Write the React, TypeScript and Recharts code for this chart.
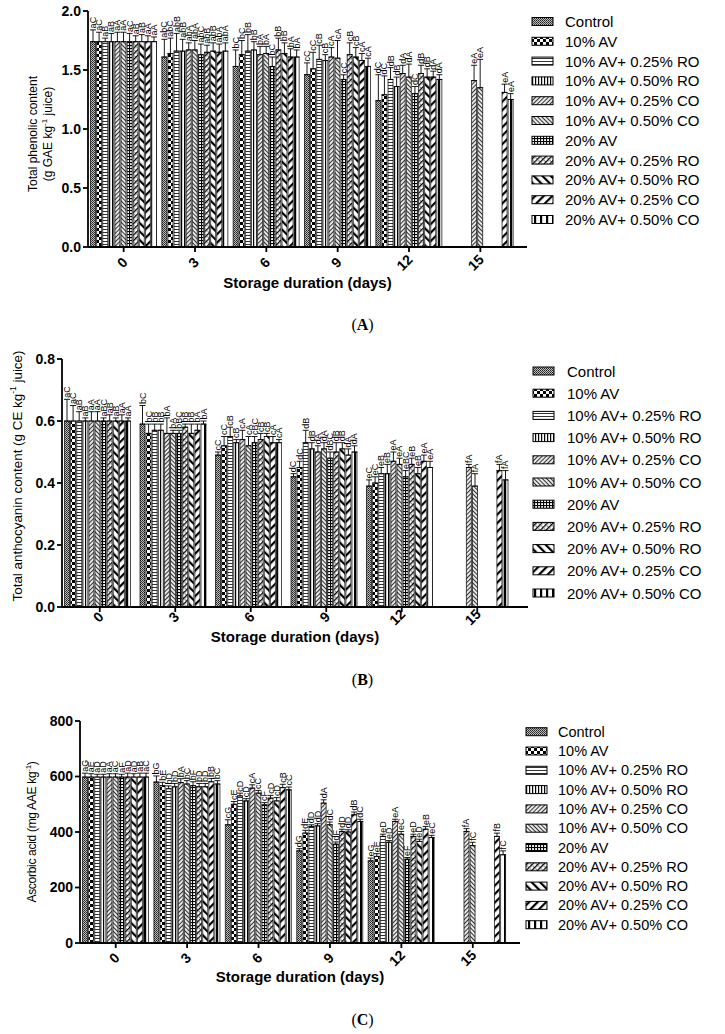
import React from 'react';
import { BarChart, Bar, XAxis, YAxis, ErrorBar, LabelList } from 'recharts';

const FONT = '"Liberation Sans", Arial, Helvetica, sans-serif';

const days = ['0', '3', '6', '9', '12', '15'];
const treatments = [
  'Control',
  '10% AV',
  '10% AV+ 0.25% RO',
  '10% AV+ 0.50% RO',
  '10% AV+ 0.25% CO',
  '10% AV+ 0.50% CO',
  '20% AV',
  '20% AV+ 0.25% RO',
  '20% AV+ 0.50% RO',
  '20% AV+ 0.25% CO',
  '20% AV+ 0.50% CO',
];

// ---- Panel A: total phenolic content (rows = treatments, cols = days)
const phenolicMean = [
  [1.74, 1.61, 1.53, 1.46, 1.24, null],
  [1.74, 1.64, 1.63, 1.51, 1.29, null],
  [1.74, 1.66, 1.66, 1.59, 1.42, null],
  [1.74, 1.66, 1.67, 1.58, 1.36, null],
  [1.74, 1.67, 1.63, 1.61, 1.47, 1.41],
  [1.74, 1.67, 1.64, 1.60, 1.44, 1.35],
  [1.74, 1.63, 1.53, 1.42, 1.30, null],
  [1.74, 1.65, 1.67, 1.63, 1.47, null],
  [1.74, 1.66, 1.64, 1.61, 1.44, null],
  [1.74, 1.65, 1.61, 1.58, 1.44, 1.31],
  [1.74, 1.66, 1.61, 1.53, 1.42, 1.25],
];
const phenolicErr = [
  [0.10, 0.15, 0.14, 0.10, 0.22, null],
  [0.08, 0.13, 0.12, 0.14, 0.16, null],
  [0.03, 0.15, 0.14, 0.12, 0.10, null],
  [0.07, 0.10, 0.07, 0.05, 0.08, null],
  [0.08, 0.06, 0.07, 0.08, 0.07, 0.13],
  [0.08, 0.08, 0.06, 0.15, 0.11, 0.24],
  [0.07, 0.09, 0.08, 0.04, 0.06, null],
  [0.05, 0.06, 0.10, 0.10, 0.07, null],
  [0.06, 0.07, 0.09, 0.08, 0.07, null],
  [0.05, 0.07, 0.07, 0.06, 0.05, 0.07],
  [0.04, 0.07, 0.06, 0.07, 0.04, 0.05],
];
const phenolicLetters = [
  ['aC', 'abC', 'bC', 'cC', 'dC', null],
  ['aC', 'abC', 'bC', 'cC', 'dC', null],
  ['aB', 'abB', 'bB', 'cB', 'dB', null],
  ['aB', 'abB', 'bB', 'cB', 'dB', null],
  ['aA', 'abA', 'bA', 'cA', 'dA', 'eA'],
  ['aA', 'abA', 'bA', 'cA', 'dA', 'eA'],
  ['aC', 'abC', 'bC', 'cC', 'dC', null],
  ['aB', 'abB', 'bB', 'cB', 'dB', null],
  ['aB', 'abB', 'bB', 'cB', 'dB', null],
  ['aA', 'abA', 'bA', 'cA', 'dA', 'eA'],
  ['aA', 'abA', 'bA', 'cA', 'dA', 'eA'],
];

// ---- Panel B: total anthocyanin content
const anthoMean = [
  [0.60, 0.59, 0.49, 0.42, 0.39, null],
  [0.60, 0.56, 0.52, 0.45, 0.40, null],
  [0.60, 0.57, 0.55, 0.53, 0.43, null],
  [0.60, 0.57, 0.53, 0.51, 0.43, null],
  [0.60, 0.56, 0.54, 0.50, 0.47, 0.45],
  [0.60, 0.56, 0.52, 0.51, 0.46, 0.39],
  [0.60, 0.56, 0.53, 0.48, 0.42, null],
  [0.60, 0.58, 0.54, 0.50, 0.46, null],
  [0.60, 0.56, 0.55, 0.51, 0.43, null],
  [0.60, 0.57, 0.53, 0.49, 0.47, 0.44],
  [0.60, 0.59, 0.53, 0.50, 0.45, 0.41],
];
const anthoErr = [
  [0.07, 0.06, 0.01, 0.01, 0.02, null],
  [0.05, 0.03, 0.03, 0.02, 0.02, null],
  [0.03, 0.02, 0.03, 0.04, 0.02, null],
  [0.01, 0.02, 0.01, 0.02, 0.03, null],
  [0.03, 0.05, 0.03, 0.02, 0.03, 0.01],
  [0.03, 0.01, 0.03, 0.02, 0.02, 0.04],
  [0.01, 0.01, 0.02, 0.02, 0.02, null],
  [0.02, 0.01, 0.02, 0.03, 0.02, null],
  [0.01, 0.03, 0.01, 0.02, 0.02, null],
  [0.02, 0.02, 0.02, 0.02, 0.02, 0.02],
  [0.01, 0.01, 0.01, 0.02, 0.02, 0.03],
];
const anthoLetters = [
  ['aC', 'bC', 'cC', 'dC', 'eC', null],
  ['aC', 'bC', 'cC', 'dC', 'eC', null],
  ['aB', 'bB', 'cB', 'dB', 'eB', null],
  ['aB', 'bB', 'cB', 'dB', 'eB', null],
  ['aA', 'bA', 'cA', 'dA', 'eA', 'fA'],
  ['aA', 'bA', 'cA', 'dA', 'eA', 'fA'],
  ['aBC', 'bBC', 'cBC', 'dBC', 'eBC', null],
  ['aB', 'bB', 'cB', 'dB', 'eB', null],
  ['aB', 'bB', 'cB', 'dB', 'eB', null],
  ['aA', 'bA', 'cA', 'dA', 'eA', 'fA'],
  ['aA', 'bA', 'cA', 'dA', 'eA', 'fA'],
];

// ---- Panel C: ascorbic acid
const ascorbicMean = [
  [598, 580, 426, 332, 296, null],
  [598, 567, 500, 396, 312, null],
  [598, 556, 530, 420, 384, null],
  [598, 563, 512, 422, 363, null],
  [598, 578, 558, 504, 438, 402],
  [598, 573, 540, 426, 392, 351],
  [598, 567, 498, 356, 302, null],
  [598, 563, 522, 402, 384, null],
  [598, 563, 512, 400, 366, null],
  [598, 581, 560, 462, 410, 384],
  [598, 573, 552, 438, 380, 318],
];
const ascorbicErr = [
  [14, 22, 18, 8, 10, null],
  [12, 12, 10, 10, 10, null],
  [10, 10, 10, 6, 8, null],
  [10, 12, 8, 8, 6, null],
  [12, 14, 12, 12, 8, 10],
  [12, 12, 10, 10, 10, 12],
  [10, 14, 8, 8, 6, null],
  [14, 12, 10, 8, 8, null],
  [12, 12, 12, 8, 8, null],
  [14, 12, 12, 10, 10, 12],
  [14, 12, 10, 8, 8, 14],
];
const ascorbicLetters = [
  ['aG', 'bG', 'cG', 'dG', 'eG', null],
  ['aE', 'bE', 'cE', 'dE', 'eE', null],
  ['aD', 'bD', 'cD', 'dD', 'eD', null],
  ['aD', 'bD', 'cD', 'dD', 'eD', null],
  ['aA', 'bA', 'cA', 'dA', 'eA', 'fA'],
  ['aC', 'bC', 'cC', 'dC', 'eC', 'fC'],
  ['aF', 'bF', 'cF', 'dF', 'eF', null],
  ['aD', 'bD', 'cD', 'dD', 'eD', null],
  ['aD', 'bD', 'cD', 'dD', 'eD', null],
  ['aB', 'bB', 'cB', 'dB', 'eB', 'fB'],
  ['aC', 'bC', 'cC', 'dC', 'eC', 'fC'],
];

const phenolicTicks = [0, 0.5, 1.0, 1.5, 2.0];
const anthoTicks = [0, 0.2, 0.4, 0.6, 0.8];
const ascorbicTicks = [0, 200, 400, 600, 800];

function buildRows(mean: (number | null)[][], err: (number | null)[][], letters: (string | null)[][]) {
  return days.map((d, j) => {
    const row: any = { day: d };
    treatments.forEach((_, i) => {
      row[`v${i}`] = mean[i][j];
      row[`e${i}`] = err[i][j] == null ? null : [0, err[i][j]];
      row[`l${i}`] = letters[i][j];
    });
    return row;
  });
}

function Patterns() {
  const W = '#fff';
  const K = '#000';
  return (
    <svg width={0} height={0} style={{ position: 'absolute', left: 0, top: 0 }}>
      <defs>
        <pattern id="pat0" patternUnits="userSpaceOnUse" width={2} height={2}>
          <rect width={2} height={2} fill="#bbb" />
          <rect width={1} height={1} fill="#222" />
          <rect x={1} y={1} width={1} height={1} fill="#444" />
        </pattern>
        <pattern id="pat1" patternUnits="userSpaceOnUse" width={6} height={6}>
          <rect width={6} height={6} fill={W} />
          <rect width={3} height={3} fill={K} />
          <rect x={3} y={3} width={3} height={3} fill={K} />
        </pattern>
        <pattern id="pat2" patternUnits="userSpaceOnUse" width={4} height={3}>
          <rect width={4} height={3} fill={W} />
          <rect y={1} width={4} height={0.8} fill={K} />
        </pattern>
        <pattern id="pat3" patternUnits="userSpaceOnUse" width={3} height={4}>
          <rect width={3} height={4} fill={W} />
          <rect x={1} width={1.2} height={4} fill={K} />
        </pattern>
        <pattern id="pat4" patternUnits="userSpaceOnUse" width={3} height={3} patternTransform="rotate(45)">
          <rect width={3} height={3} fill="#e8e8e8" />
          <rect width={1} height={3} fill="#333" />
        </pattern>
        <pattern id="pat5" patternUnits="userSpaceOnUse" width={3} height={3} patternTransform="rotate(-45)">
          <rect width={3} height={3} fill="#e8e8e8" />
          <rect width={1} height={3} fill="#333" />
        </pattern>
        <pattern id="pat6" patternUnits="userSpaceOnUse" width={3} height={3}>
          <rect width={3} height={3} fill={W} />
          <rect width={3} height={1.1} fill={K} />
          <rect width={1.1} height={3} fill={K} />
        </pattern>
        <pattern id="pat7" patternUnits="userSpaceOnUse" width={4} height={4} patternTransform="rotate(45)">
          <rect width={4} height={4} fill={W} />
          <rect width={1.3} height={4} fill={K} />
          <rect x={2.6} y={0} width={0.9} height={1.2} fill={K} />
        </pattern>
        <pattern id="pat8" patternUnits="userSpaceOnUse" width={6} height={6} patternTransform="rotate(-45)">
          <rect width={6} height={6} fill={W} />
          <rect width={2.2} height={6} fill={K} />
        </pattern>
        <pattern id="pat9" patternUnits="userSpaceOnUse" width={6} height={6} patternTransform="rotate(45)">
          <rect width={6} height={6} fill={W} />
          <rect width={2.2} height={6} fill={K} />
        </pattern>
        <pattern id="pat10" patternUnits="userSpaceOnUse" width={6} height={6}>
          <rect width={6} height={6} fill={W} />
          <rect width={2.2} height={6} fill={K} />
        </pattern>
      </defs>
    </svg>
  );
}

function makeLetterLabel(meanRow: (number | null)[], errRow: (number | null)[]) {
  return (props: any) => {
    const vb = props.viewBox || {};
    const x = props.x ?? vb.x;
    const y = props.y ?? vb.y;
    const width = props.width ?? vb.width;
    const height = Math.abs(props.height ?? vb.height);
    const { value, index } = props;
    if (value == null || index == null) return null;
    const m = meanRow[index];
    if (m == null || !height) return null;
    const e = errRow[index] ?? 0;
    const pxPerUnit = height / m;
    const cx = x + width / 2;
    const ty = y - e * pxPerUnit - 1.5;
    return (
      <text
        x={cx}
        y={ty}
        transform={`rotate(-90 ${cx} ${ty})`}
        fontSize={9}
        fontFamily={FONT}
        textAnchor="start"
        dominantBaseline="central"
        fill="#000"
      >
        {value}
      </text>
    );
  };
}

function XTick(props: any) {
  const { x, y, payload, dy } = props;
  const s = String(payload.value);
  const cx = x - 1.5 - 3 * (s.length - 1);
  const cy = y + dy;
  return (
    <text
      x={cx}
      y={cy}
      transform={`rotate(-45 ${cx} ${cy})`}
      textAnchor="middle"
      dominantBaseline="central"
      fontFamily={FONT}
      fontWeight="bold"
      fontSize={14}
      fill="#000"
    >
      {s}
    </text>
  );
}

function LegendOverlay({ height, swatchX, textX, y0, step, fontSize }: any) {
  return (
    <svg
      width={725}
      height={height}
      style={{ position: 'absolute', left: 0, top: 0, pointerEvents: 'none' }}
    >
      {treatments.map((t, i) => {
        const cy = y0 + step * i;
        return (
          <g key={t}>
            <rect x={swatchX} y={cy - 4} width={21} height={8} fill={`url(#pat${i})`} stroke="#000" strokeWidth={1} />
            <text x={textX} y={cy} dominantBaseline="central" fontFamily={FONT} fontSize={fontSize} fill="#000">
              {t}
            </text>
          </g>
        );
      })}
    </svg>
  );
}

type PanelProps = {
  top: number;
  height: number;
  marginTop: number;
  marginRight: number;
  yWidth: number;
  padRight: number;
  mean: (number | null)[][];
  err: (number | null)[][];
  letters: (string | null)[][];
  ticks: number[];
  fmt: (v: number) => string;
  yLabel: (props: any) => any;
  tickDy: number;
  xLabelDy: number;
  legend: any;
  caption: string;
  captionTop: number;
};

function Panel(p: PanelProps) {
  const data = buildRows(p.mean, p.err, p.letters);
  const xLabel = (props: any) => {
    const vb = props.viewBox || {};
    return (
      <text
        x={vb.x + vb.width / 2}
        y={vb.y + p.xLabelDy}
        textAnchor="middle"
        dominantBaseline="central"
        fontFamily={FONT}
        fontWeight="bold"
        fontSize={15}
        fill="#000"
      >
        Storage duration (days)
      </text>
    );
  };
  return (
    <>
      <div style={{ position: 'absolute', left: 0, top: p.top, width: 725, height: p.height }}>
        <BarChart
          width={725}
          height={p.height}
          data={data}
          margin={{ top: p.marginTop, right: p.marginRight, bottom: 0, left: 0 }}
          barCategoryGap={2.5}
          barGap={1.1}
        >
          <XAxis
            dataKey="day"
            interval={0}
            height={53}
            stroke="#000"
            strokeWidth={1.8}
            tickSize={5}
            tickLine={{ stroke: '#000', strokeWidth: 1.8 }}
            padding={{ left: 0, right: p.padRight }}
            tick={<XTick dy={p.tickDy} />}
            label={xLabel}
          />
          <YAxis
            width={p.yWidth}
            domain={[p.ticks[0], p.ticks[p.ticks.length - 1]]}
            ticks={p.ticks}
            tickFormatter={p.fmt}
            allowDataOverflow
            stroke="#000"
            strokeWidth={1.8}
            tickSize={5}
            tickLine={{ stroke: '#000', strokeWidth: 1.8 }}
            tick={{ fill: '#000', fontSize: 14, fontWeight: 'bold', fontFamily: FONT }}
            label={p.yLabel}
          />
          {treatments.map((t, i) => (
            <Bar
              key={t}
              dataKey={`v${i}`}
              name={t}
              fill={`url(#pat${i})`}
              stroke="#000"
              strokeWidth={0.7}
              isAnimationActive={false}
            >
              <ErrorBar dataKey={`e${i}`} width={3} stroke="#000" strokeWidth={0.9} direction="y" />
              <LabelList dataKey={`l${i}`} content={makeLetterLabel(p.mean[i], p.err[i])} />
            </Bar>
          ))}
        </BarChart>
        <LegendOverlay height={p.height} {...p.legend} />
      </div>
      <div
        style={{
          position: 'absolute',
          left: 0,
          top: p.captionTop,
          width: 725,
          textAlign: 'center',
          fontFamily: '"Liberation Serif", "Times New Roman", serif',
          fontSize: 16,
          lineHeight: '20px',
          color: '#000',
        }}
      >
        (<b>{p.caption}</b>)
      </div>
    </>
  );
}

const yLabelA = (props: any) => {
  const vb = props.viewBox || { y: 11, height: 236 };
  const cy = vb.y + vb.height / 2 + 5;
  return (
    <g fontFamily={FONT} fontSize={12} fill="#000">
      <text x={33} y={cy} transform={`rotate(-90 33 ${cy})`} textAnchor="middle" dominantBaseline="central">
        Total phenolic content
      </text>
      <text x={48} y={cy} transform={`rotate(-90 48 ${cy})`} textAnchor="middle" dominantBaseline="central">
        (g GAE kg
        <tspan dy={-4} fontSize={8}>-1</tspan>
        <tspan dy={4}> juice)</tspan>
      </text>
    </g>
  );
};

const yLabelB = (props: any) => {
  const vb = props.viewBox || { y: 19, height: 248 };
  const cy = vb.y + vb.height / 2 - 7;
  return (
    <text
      x={17}
      y={cy}
      transform={`rotate(-90 17 ${cy})`}
      textAnchor="middle"
      dominantBaseline="central"
      fontFamily={FONT}
      fontSize={13.4}
      fill="#000"
    >
      Total anthocyanin content (g CE kg
      <tspan dy={-4} fontSize={8.5}>-1</tspan>
      <tspan dy={4}> juice)</tspan>
    </text>
  );
};

const yLabelC = (props: any) => {
  const vb = props.viewBox || { y: 21, height: 222 };
  const cy = vb.y + vb.height / 2;
  return (
    <text
      x={32}
      y={cy}
      transform={`rotate(-90 32 ${cy})`}
      textAnchor="middle"
      dominantBaseline="central"
      fontFamily={FONT}
      fontSize={12}
      letterSpacing={-0.3}
      fill="#000"
    >
      Ascorbic acid (mg AAE kg
      <tspan dy={-4} fontSize={8}>-1</tspan>
      <tspan dy={4}>)</tspan>
    </text>
  );
};

export default function App() {
  return (
    <div style={{ position: 'absolute', left: 0, top: 0, width: 725, height: 1034, background: '#fff' }}>
      <Patterns />
      <Panel
        top={0}
        height={300}
        marginTop={11}
        marginRight={198}
        yWidth={88}
        padRight={11}
        mean={phenolicMean}
        err={phenolicErr}
        letters={phenolicLetters}
        ticks={phenolicTicks}
        fmt={(v) => v.toFixed(1)}
        yLabel={yLabelA}
        tickDy={8.5}
        xLabelDy={35}
        legend={{ swatchX: 532, textX: 565, y0: 21.5, step: 19.8, fontSize: 15 }}
        caption="A"
        captionTop={315}
      />
      <Panel
        top={340}
        height={320}
        marginTop={19}
        marginRight={197}
        yWidth={62}
        padRight={13}
        mean={anthoMean}
        err={anthoErr}
        letters={anthoLetters}
        ticks={anthoTicks}
        fmt={(v) => v.toFixed(1)}
        yLabel={yLabelB}
        tickDy={3}
        xLabelDy={29}
        legend={{ swatchX: 533, textX: 567, y0: 31, step: 22.2, fontSize: 15 }}
        caption="B"
        captionTop={670}
      />
      <Panel
        top={700}
        height={296}
        marginTop={21}
        marginRight={205}
        yWidth={80}
        padRight={11.5}
        mean={ascorbicMean}
        err={ascorbicErr}
        letters={ascorbicLetters}
        ticks={ascorbicTicks}
        fmt={(v) => String(v)}
        yLabel={yLabelC}
        tickDy={8}
        xLabelDy={33}
        legend={{ swatchX: 526, textX: 558, y0: 31.7, step: 19.3, fontSize: 14.5 }}
        caption="C"
        captionTop={1010}
      />
    </div>
  );
}
